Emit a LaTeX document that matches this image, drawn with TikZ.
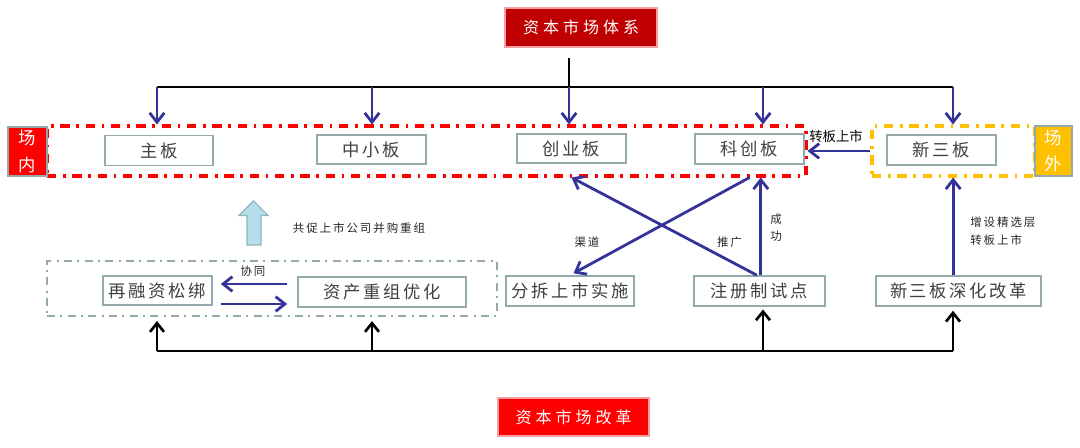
\documentclass[tikz,border=0pt]{standalone}
\usepackage{fontspec}
\newfontfamily\cjk{Noto Sans CJK SC}
\newfontfamily\cjks[LetterSpace=15]{Noto Sans CJK SC}
\newfontfamily\cjkt[LetterSpace=25]{Noto Sans CJK SC}
\newfontfamily\cjkl[LetterSpace=17]{Noto Sans CJK SC}
\usetikzlibrary{arrows.meta,calc}
\definecolor{navy}{HTML}{333399}
\definecolor{boxgray}{HTML}{93A9AB}
\definecolor{txtgray}{HTML}{404040}
\definecolor{darkred}{HTML}{C00000}
\definecolor{orangey}{HTML}{FFC000}
\definecolor{paleblue}{HTML}{B7DEE8}
\definecolor{tealedge}{HTML}{8EB4BE}
\definecolor{pinkedge}{HTML}{F4A0A0}
\tikzset{
  box/.style={draw=boxgray, line width=1.2pt, fill=white, inner sep=0pt,
    text=txtgray, font=\cjks\fontsize{13}{15}\selectfont},
  titlebox/.style={draw=pinkedge, line width=0.8pt, inner sep=0pt, text=white,
    font=\cjkt\fontsize{12}{14}\selectfont},
  sidebox/.style={draw=boxgray, line width=1.3pt, inner sep=0pt, text=white,
    align=center, font=\cjk\fontsize{13}{20}\selectfont},
  zone/.style={line width=2.3pt, inner sep=0pt,
    dash pattern=on 7pt off 5pt on 2pt off 5pt},
  barrow/.style={draw=navy, line width=2.1pt,
    -{Straight Barb[length=7pt,width=11pt]}},
  blkline/.style={draw=black, line width=2pt},
  blkarrow/.style={draw=black, line width=2pt,
    -{Straight Barb[length=6.5pt,width=10.5pt]}},
  lbl/.style={inner sep=0pt, text=black!85, font=\cjkl\fontsize{8.6}{13}\selectfont},
}
\begin{document}
\begin{tikzpicture}[x=0.75pt,y=-0.75pt]
\useasboundingbox (0,0) rectangle (1080,448);

% titles
\node[titlebox, fill=darkred, minimum width=152*0.75pt, minimum height=39*0.75pt] (ztop) at (581,27.5) {资本市场体系};
\node[titlebox, fill=red, minimum width=151*0.75pt, minimum height=38*0.75pt] (zbot) at (573.5,417) {资本市场改革};

% zones
\node[zone, draw=red, minimum width=759*0.75pt, minimum height=50*0.75pt] (inzone) at (426.5,151) {};
\node[zone, draw=orangey, minimum width=163*0.75pt, minimum height=50*0.75pt] (outzone) at (953.5,151) {};
\node[zone, draw=boxgray, line width=1.6pt, dash pattern=on 6pt off 4pt on 1.5pt off 4pt,
      minimum width=450*0.75pt, minimum height=55*0.75pt] (teal) at (272,288.5) {};

\node[sidebox, fill=red, minimum width=39*0.75pt, minimum height=49*0.75pt] (cn) at (27.5,151.5) {场\\内};
\node[sidebox, fill=orangey, minimum width=37*0.75pt, minimum height=50*0.75pt] (cw) at (1053.5,151) {场\\外};

% upper boxes
\node[box, minimum width=108*0.75pt, minimum height=30*0.75pt] (zb) at (159,150.5) {主板};
\node[box, minimum width=109*0.75pt, minimum height=29*0.75pt] (zxb) at (371.5,149.5) {中小板};
\node[box, minimum width=109*0.75pt, minimum height=29*0.75pt] (cyb) at (571.5,148.5) {创业板};
\node[box, minimum width=109*0.75pt, minimum height=30*0.75pt] (kcb) at (749.5,149) {科创板};
\node[box, minimum width=109*0.75pt, minimum height=30*0.75pt] (xsb) at (941.5,150) {新三板};

% lower boxes
\node[box, minimum width=109*0.75pt, minimum height=29*0.75pt] (rzs) at (157.5,290.5) {再融资松绑};
\node[box, minimum width=168*0.75pt, minimum height=30*0.75pt] (zcz) at (382,292) {资产重组优化};
\node[box, minimum width=128*0.75pt, minimum height=30*0.75pt] (ffs) at (570,291) {分拆上市实施};
\node[box, minimum width=131*0.75pt, minimum height=30*0.75pt] (zcs) at (759.5,291) {注册制试点};
\node[box, minimum width=165*0.75pt, minimum height=30*0.75pt] (xsg) at (958.5,291) {新三板深化改革};

% top tree
\coordinate (hub) at (569,87);
\coordinate (t1) at (157,87);
\coordinate (t2) at (372,87);
\coordinate (t4) at (763,87);
\coordinate (t5) at (953,87);
\draw[blkline, shorten <=7.5pt] (ztop.south -| hub) -- (hub);
\draw[blkline, line width=1.6pt] (t1) -- (t5);
\draw[barrow] (t1) -- (t1 |- inzone.north);
\draw[barrow] (t2) -- (t2 |- inzone.north);
\draw[barrow] (hub) -- (hub |- inzone.north);
\draw[barrow] (t4) -- (t4 |- inzone.north);
\draw[barrow] (t5) -- (t5 |- outzone.north);

% 新三板 -> 科创板
\draw[barrow] (outzone.west) -- (inzone.east);
\node[inner sep=0pt, text=black, font=\cjk\fontsize{10}{12}\selectfont] (lzb) at (836,136) {转板上市};

% lower left
\draw[barrow, shorten <=7.5pt, shorten >=6pt] ([yshift=6pt]zcz.west) -- ([yshift=6pt]zcz.west -| rzs.east);
\draw[barrow, shorten <=6pt, shorten >=7.5pt] ([yshift=-9pt]zcz.west -| rzs.east) -- ([yshift=-9pt]zcz.west);
\node[lbl] (lxt) at (253,271) {协同};

\draw[fill=paleblue, draw=tealedge, line width=0.8pt]
  (247,245) -- (261,245) -- (261,215.5) -- (268,215.5) -- (253.5,201) -- (239,215.5) -- (247,215.5) -- cycle;
\node[lbl] (lgc) at (359,228.5) {共促上市公司并购重组};

% middle arrows
\draw[barrow] ([xshift=-2pt]zcs.north) -- (cyb.south |- inzone.south);
\draw[barrow, shorten >=3pt] (kcb.south |- inzone.south) -- (ffs.north);
\draw[barrow] ([xshift=1pt]zcs.north) -- ([xshift=1pt]zcs.north |- inzone.south);
\draw[barrow] ([xshift=-4pt]xsg.north) -- ([xshift=-4pt]xsg.north |- outzone.south);
\node[lbl] (lqd) at (587,242) {渠道};
\node[lbl] (ltg) at (729.5,242) {推广};
\node[lbl, align=center] (lcg) at (776,227.5) {成\\功};
\node[lbl, anchor=west, align=left] (lzx) at (970,231) {增设精选层\\转板上市};

% bottom tree
\coordinate (b1) at (157,351);
\coordinate (b2) at (372,351);
\coordinate (b3) at (763,351);
\coordinate (b4) at (953,351);
\draw[blkline] (b1) -- (b4);
\draw[blkarrow, shorten >=3pt] (b1) -- (b1 |- teal.south);
\draw[blkarrow, shorten >=3pt] (b2) -- (b2 |- teal.south);
\draw[blkarrow, shorten >=2pt] (b3) -- (b3 |- zcs.south);
\draw[blkarrow, shorten >=3pt] (b4) -- (b4 |- xsg.south);
\end{tikzpicture}
\end{document}
